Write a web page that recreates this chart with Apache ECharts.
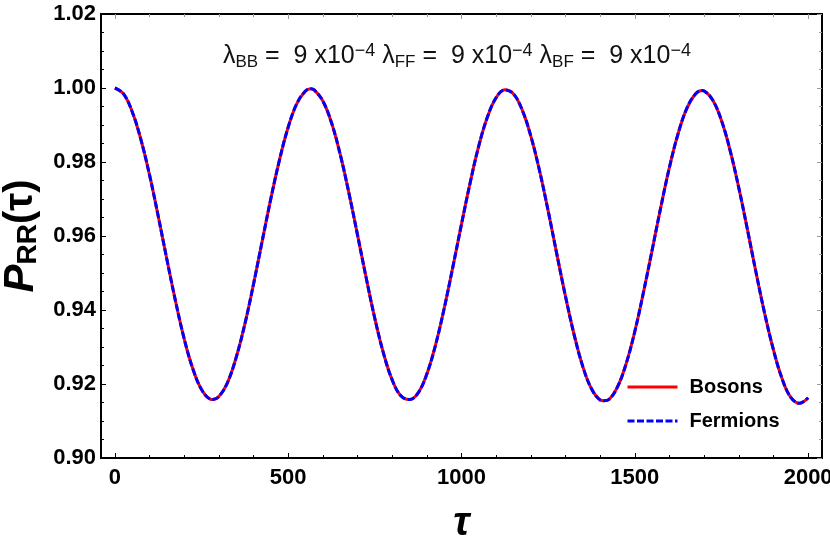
<!DOCTYPE html>
<html>
<head>
<meta charset="utf-8">
<script src="https://cdn.jsdelivr.net/npm/echarts@6/dist/echarts.min.js"></script>
<style>
  html, body { margin: 0; padding: 0; background: #fff; }
  #main { width: 830px; height: 543px; }
</style>
</head>
<body>
<div id="main"></div>
<script>
// tau values (every 25, plus a few turning points)
var taus = [0, 25, 50, 75, 100, 125, 150, 175, 200, 225, 250, 275, 282, 300, 325, 350, 375, 400, 425, 450, 475,
  500, 525, 550, 565, 575, 600, 625, 650, 675, 700, 725, 750, 775, 800, 825, 850, 875, 900, 925, 950, 975,
  1000, 1025, 1050, 1075, 1100, 1125, 1150, 1175, 1200, 1225, 1250, 1275, 1300, 1325, 1350, 1375, 1400, 1411,
  1425, 1450, 1475, 1500, 1525, 1550, 1575, 1600, 1625, 1650, 1675, 1694, 1700, 1725, 1750, 1775, 1800, 1825,
  1850, 1875, 1900, 1925, 1950, 1975, 2000];

var bosons = [1.0000, 0.9984, 0.9936, 0.9861, 0.9765, 0.9654, 0.9537, 0.9424, 0.9322, 0.9241, 0.9185, 0.9159,
  0.9158, 0.9166, 0.9204, 0.9272, 0.9362, 0.9470, 0.9586, 0.9701, 0.9806,
  0.9894, 0.9958, 0.9992, 0.9998, 0.9995, 0.9965, 0.9906, 0.9821, 0.9717, 0.9603, 0.9487, 0.9377, 0.9283,
  0.9211, 0.9168, 0.9158, 0.9176, 0.9227, 0.9305, 0.9404, 0.9516,
  0.9632, 0.9744, 0.9844, 0.9922, 0.9974, 0.9995, 0.9984, 0.9941, 0.9870, 0.9777, 0.9668, 0.9551, 0.9437,
  0.9333, 0.9247, 0.9187, 0.9157, 0.9155,
  0.9158, 0.9192, 0.9255, 0.9342, 0.9448, 0.9562, 0.9678, 0.9786, 0.9877, 0.9945, 0.9984, 0.9993, 0.9992,
  0.9967, 0.9912, 0.9831, 0.9730, 0.9617,
  0.9500, 0.9389, 0.9292, 0.9214, 0.9164, 0.9148, 0.9163];

// fermion curve sits right on top of the boson one
var fermions = [1.0000, 0.9984, 0.9936, 0.9861, 0.9765, 0.9654, 0.9537, 0.9424, 0.9322, 0.9241, 0.9185, 0.9159,
  0.9158, 0.9166, 0.9204, 0.9272, 0.9362, 0.9470, 0.9586, 0.9701, 0.9806,
  0.9894, 0.9958, 0.9992, 0.9998, 0.9995, 0.9965, 0.9906, 0.9821, 0.9717, 0.9603, 0.9487, 0.9377, 0.9283,
  0.9211, 0.9168, 0.9158, 0.9176, 0.9227, 0.9305, 0.9404, 0.9516,
  0.9632, 0.9744, 0.9844, 0.9922, 0.9974, 0.9995, 0.9984, 0.9941, 0.9870, 0.9777, 0.9668, 0.9551, 0.9437,
  0.9333, 0.9247, 0.9187, 0.9157, 0.9155,
  0.9158, 0.9192, 0.9255, 0.9342, 0.9448, 0.9562, 0.9678, 0.9786, 0.9877, 0.9945, 0.9984, 0.9993, 0.9992,
  0.9967, 0.9912, 0.9831, 0.9730, 0.9617,
  0.9500, 0.9389, 0.9292, 0.9214, 0.9164, 0.9148, 0.9163];

var xMajorTicks = [0, 500, 1000, 1500, 2000];
var xMinorTicks = [100, 200, 300, 400, 600, 700, 800, 900, 1100, 1200, 1300, 1400, 1600, 1700, 1800, 1900];
var yTicks = [0.90, 0.92, 0.94, 0.96, 0.98, 1.00, 1.02];

var FONT = '"Liberation Sans", Arial, sans-serif';

function pairs(xs, ys) {
  return xs.map(function (x, i) { return [x, ys[i]]; });
}

var chart = echarts.init(document.getElementById('main'), null, { renderer: 'canvas' });

// one x axis for the data + labels, extra ones just to draw minor ticks / the top frame
function xAxisDef(pos, ticks, len, tickColor, showLabel) {
  return {
    type: 'value',
    position: pos,
    min: -40,
    max: 2040,
    axisLine: { show: true, onZero: false, lineStyle: { color: '#000', width: 2 } },
    axisTick: { show: true, inside: true, length: len, customValues: ticks, lineStyle: { color: tickColor, width: 1 } },
    axisLabel: {
      show: showLabel, customValues: xMajorTicks, margin: 9,
      formatter: function (v) { return String(v); },
      color: '#000', fontFamily: FONT, fontWeight: 'bold', fontSize: 22
    },
    splitLine: { show: false }
  };
}

function yAxisDef(pos, tickColor, showLabel) {
  return {
    type: 'value',
    position: pos,
    min: yTicks[0],
    max: yTicks[yTicks.length - 1],
    interval: 0.02,
    axisLine: { show: true, onZero: false, lineStyle: { color: '#000', width: 2 } },
    axisTick: { show: true, inside: true, length: 5, lineStyle: { color: tickColor, width: 1 } },
    minorTick: { show: true, splitNumber: 4, length: 3, lineStyle: { color: tickColor, width: 1 } },
    axisLabel: {
      show: showLabel, margin: 5,
      formatter: function (v) { return v.toFixed(2); },
      color: '#000', fontFamily: FONT, fontWeight: 'bold', fontSize: 22
    },
    splitLine: { show: false }
  };
}

var xMain = xAxisDef('bottom', xMajorTicks, 5, '#000', true);
xMain.name = '{t|τ}';
xMain.nameLocation = 'middle';
xMain.nameGap = 46;
xMain.nameTextStyle = { rich: { t: { fontFamily: FONT, fontWeight: 'bold', fontStyle: 'italic', fontSize: 40, color: '#000' } } };

var yMain = yAxisDef('left', '#000', true);
yMain.name = '{p|P}{s|RR}{b|(τ)}';
yMain.nameLocation = 'middle';
yMain.nameRotate = 90;
yMain.nameGap = 58;
yMain.nameTextStyle = {
  rich: {
    p: { fontFamily: FONT, fontWeight: 'bold', fontStyle: 'italic', fontSize: 42, color: '#000' },
    s: { fontFamily: FONT, fontWeight: 'bold', fontSize: 28, color: '#000', padding: [14, 0, 0, 0] },
    b: { fontFamily: FONT, fontWeight: 'bold', fontSize: 40, color: '#000' }
  }
};

var option = {
  animation: false,
  backgroundColor: '#fff',
  grid: { left: 101, top: 14, right: 8, bottom: 85, containLabel: false, outerBoundsMode: 'none' },
  title: {
    left: 218,
    top: 36,
    text: '{t|λ}{sub|BB}{t| =  9 x10}{sup|−4}{t| λ}{sub|FF}{t| =  9 x10}{sup|−4}{t| λ}{sub|BF}{t| =  9 x10}{sup|−4}',
    textStyle: {
      fontWeight: 'normal',
      rich: {
        t: { fontFamily: FONT, fontWeight: 'normal', fontSize: 25, color: '#111' },
        sub: { fontFamily: FONT, fontWeight: 'normal', fontSize: 17, color: '#111', padding: [13, 0, 0, 0] },
        sup: { fontFamily: FONT, fontWeight: 'normal', fontSize: 18, color: '#111', padding: [0, 0, 10, 0] }
      }
    }
  },
  legend: {
    orient: 'vertical',
    left: 626,
    top: 377,
    padding: 0,
    itemWidth: 50,
    itemHeight: 20,
    itemGap: 14,
    data: ['Bosons', 'Fermions'],
    itemStyle: { opacity: 0 },
    lineStyle: { width: 3 },
    textStyle: { fontFamily: FONT, fontWeight: 'bold', fontSize: 20, color: '#000', padding: [0, 0, 0, 7] }
  },
  xAxis: [
    xMain,
    xAxisDef('bottom', xMinorTicks, 3, '#000', false),
    xAxisDef('top', xMajorTicks, 5, '#999', false),
    xAxisDef('top', xMinorTicks, 3, '#999', false)
  ],
  yAxis: [
    yMain,
    yAxisDef('right', '#999', false)
  ],
  series: [
    {
      name: 'Bosons',
      type: 'line',
      xAxisIndex: 0,
      yAxisIndex: 0,
      data: pairs(taus, bosons),
      smooth: 0.4,
      symbol: 'none',
      lineStyle: { color: '#ff0000', width: 3 },
      itemStyle: { color: '#ff0000' }
    },
    {
      name: 'Fermions',
      type: 'line',
      xAxisIndex: 0,
      yAxisIndex: 0,
      data: pairs(taus, fermions),
      smooth: 0.4,
      symbol: 'none',
      lineStyle: { color: '#0000ff', width: 3, type: [7, 2.5] },
      itemStyle: { color: '#0000ff' }
    }
  ]
};

chart.setOption(option);
</script>
</body>
</html>
